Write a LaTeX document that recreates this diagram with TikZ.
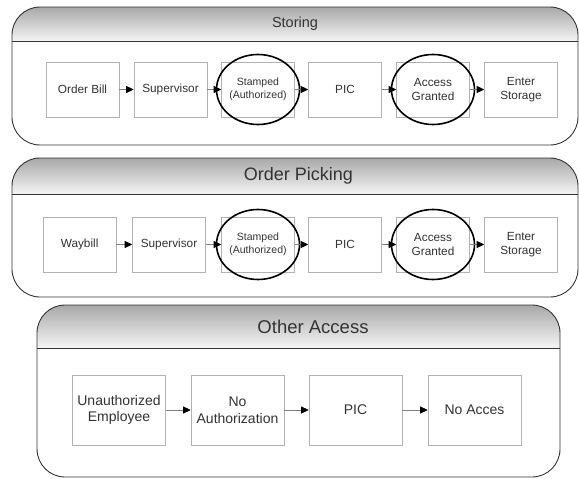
\documentclass[tikz,border=0pt]{standalone}
\usepackage{fontspec}
\setmainfont{Liberation Sans}
\usetikzlibrary{arrows.meta,shapes.geometric}

\definecolor{ink}{HTML}{333333}
\tikzset{
  panel/.style={draw=black!80, line width=0.9pt, rounded corners=28pt},
  header/.style={top color=black!34, bottom color=black!4},
  title/.style={text=ink, inner sep=0pt},
  stepbox/.style={draw=black!30, line width=0.6pt, minimum width=73pt,
    minimum height=55pt, align=center, inner sep=1pt, text=ink,
    font=\fontsize{11.8}{13.8}\selectfont},
  smalltext/.style={font=\fontsize{10.5}{12.5}\selectfont},
  bigbox/.style={stepbox, minimum width=93pt, minimum height=70pt,
    font=\fontsize{14}{16.5}\selectfont},
  ring/.style={ellipse, draw=black, line width=1.6pt, minimum width=83pt,
    minimum height=70pt, inner sep=0pt},
  flow/.style={draw=black!50, line width=0.6pt,
    -{Triangle[length=7.5pt,width=7pt,color=black]}}
}

% a swimlane: rounded frame with a shaded title band
\newcommand{\lane}[5]{% x1, y1, x2, y2, header bottom
  \begin{scope}
    \clip[rounded corners=28pt] (#1,#2) rectangle (#3,#4);
    \fill[white] (#1,#2) rectangle (#3,#4);
    \shade[header] (#1,#2) rectangle (#3,#5);
  \end{scope}
  \draw[black!80, line width=0.9pt] (#1,#5) -- (#3,#5);
  \draw[panel] (#1,#2) rectangle (#3,#4);
}

\begin{document}
\begin{tikzpicture}[x=1pt, y=-1pt]
  \useasboundingbox (0,0) rectangle (579,479);

  % ---------- Storing ----------
  \lane{12}{7}{578}{145}{41}
  \node[title, font=\fontsize{14.5}{17}\selectfont] (t1) at (295,24) {Storing};
  \node[stepbox] (s1) at (82.5,89.5) {Order Bill};
  \node[stepbox] (s2) at (170.5,89.5) {Supervisor};
  \node[stepbox, smalltext] (s3) at (258,89.5) {Stamped\\(Authorized)};
  \node[stepbox] (s4) at (345,89.5) {PIC};
  \node[stepbox] (s5) at (433,89.5) {Access\\Granted};
  \node[stepbox] (s6) at (521,89.5) {Enter\\Storage};
  \node[ring] (r1) at (s3) {};
  \node[ring] (r2) at (s5) {};
  \draw[flow] (s1) -- (s2);
  \draw[flow] (s2) -- (s3);
  \draw[flow] (s3) -- (s4);
  \draw[flow] (s4) -- (s5);
  \draw[flow] (s5) -- (s6);

  % ---------- Order Picking ----------
  \lane{12}{158}{578}{297}{194}
  \node[title, font=\fontsize{18}{21}\selectfont] (t2) at (298.5,176) {Order Picking};
  \node[stepbox] (p1) at (79.6,244.5) {Waybill};
  \node[stepbox] (p2) at (169,244.5) {Supervisor};
  \node[stepbox, smalltext] (p3) at (258,244.5) {Stamped\\(Authorized)};
  \node[stepbox] (p4) at (345,244.5) {PIC};
  \node[stepbox] (p5) at (433,244.5) {Access\\Granted};
  \node[stepbox] (p6) at (521,244.5) {Enter\\Storage};
  \node[ring] (q1) at (p3) {};
  \node[ring] (q2) at (p5) {};
  \draw[flow] (p1) -- (p2);
  \draw[flow] (p2) -- (p3);
  \draw[flow] (p3) -- (p4);
  \draw[flow] (p4) -- (p5);
  \draw[flow] (p5) -- (p6);

  % ---------- Other Access ----------
  \lane{37}{305}{560}{477}{348}
  \node[title, font=\fontsize{18.5}{22}\selectfont] (t3) at (313,327) {Other Access};
  \node[bigbox] (o1) at (119,410) {Unauthorized\\Employee};
  \node[bigbox] (o2) at (237.5,410) {No\\Authorization};
  \node[bigbox] (o3) at (355.5,410) {PIC};
  \node[bigbox] (o4) at (474.5,410) {No Acces};
  \draw[flow] (o1) -- (o2);
  \draw[flow] (o2) -- (o3);
  \draw[flow] (o3) -- (o4);
\end{tikzpicture}
\end{document}
